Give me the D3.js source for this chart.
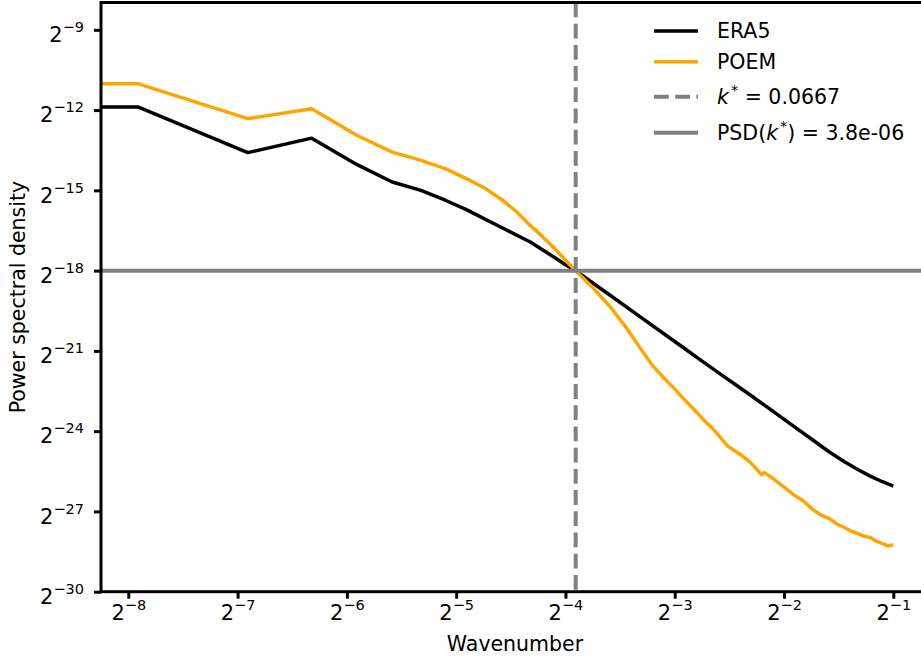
<!DOCTYPE html>
<html>
<head>
<meta charset="utf-8">
<script src="https://cdn.jsdelivr.net/npm/d3@7"></script>
<style>
  body { margin: 0; background: #fff; }
  text { font-family: "DejaVu Sans", sans-serif; fill: #000; }
</style>
</head>
<body>
<div id="chart"></div>
<script>
// grid length, wavenumber k = n / N
const N = 240;

// ERA5 spectrum, log2(PSD) (n = 0 is the clipped k = 0 point)
const eraN = [0, 1, 2, 3, 4, 5, 6, 7, 8, 10, 12, 14, 15, 16, 18, 20, 24, 28, 32, 36, 40,
  48, 56, 64, 72, 80, 88, 96, 104, 112, 120];
const eraLog2 = [-11.89, -11.89, -13.59, -13.05, -14.04, -14.69, -15.0, -15.37, -15.72, -16.39,
  -16.93, -17.51, -17.78, -18.0, -18.50, -18.94, -19.71, -20.36, -20.92, -21.42, -21.86,
  -22.61, -23.26, -23.83, -24.33, -24.78, -25.14, -25.44, -25.69, -25.89, -26.05];

// POEM spectrum
const poemN = [0, 1, 2, 3, 4, 5, 6, 7, 8, 9, 10, 11, 12, 13, 14, 15, 16, 18, 20, 22, 24, 26,
  28, 30, 32, 34, 36, 38, 40, 42, 44, 46, 48, 50, 52, 53, 56, 60, 64, 68, 72, 76, 80, 84,
  88, 92, 96, 100, 104, 108, 112, 116, 120];
const poemLog2 = [-11.02, -11.02, -12.32, -11.95, -12.95, -13.57, -13.88, -14.19, -14.56, -14.92,
  -15.34, -15.80, -16.31, -16.74, -17.17, -17.61, -18.0, -18.69, -19.38, -20.11, -20.86, -21.53,
  -22.01, -22.43, -22.84, -23.21, -23.57, -23.88, -24.22, -24.56, -24.74, -24.92, -25.12, -25.36,
  -25.62, -25.55, -25.77, -26.09, -26.39, -26.62, -26.93, -27.14, -27.27, -27.47, -27.60, -27.74,
  -27.83, -27.93, -27.98, -28.12, -28.20, -28.29, -28.24];

const kStar = 0.0667;
const psdStar = 3.8e-06;

const xTickExp = [-8, -7, -6, -5, -4, -3, -2, -1];
const yTickExp = [-9, -12, -15, -18, -21, -24, -27, -30];

const width = 921, height = 656;
const margin = {top: 2.5, left: 101, bottom: 591.7, right: 931};

const svg = d3.select("#chart").append("svg")
  .attr("width", width)
  .attr("height", height);

const x = d3.scaleLog().base(2)
  .domain([Math.pow(2, -8.25), Math.pow(2, -0.655)])
  .range([margin.left, margin.right]);

const y = d3.scaleLog().base(2)
  .domain([Math.pow(2, -30), Math.pow(2, -7.98)])
  .range([margin.bottom, margin.top]);

svg.append("clipPath").attr("id", "plot-clip")
  .append("rect")
  .attr("x", margin.left).attr("y", margin.top)
  .attr("width", margin.right - margin.left)
  .attr("height", margin.bottom - margin.top);

const plot = svg.append("g").attr("clip-path", "url(#plot-clip)");

function series(ns, vals) {
  return ns.map((n, i) => ({k: n / N, psd: Math.pow(2, vals[i])}));
}

// k = 0 is pushed off the left edge, like a clipped log axis
const line = d3.line()
  .x(d => d.k > 0 ? x(d.k) : margin.left - 40)
  .y(d => y(d.psd));

plot.append("path")
  .datum(series(eraN, eraLog2))
  .attr("d", line)
  .attr("fill", "none")
  .attr("stroke", "#000")
  .attr("stroke-width", 3.5)
  .attr("stroke-linejoin", "round");

plot.append("path")
  .datum(series(poemN, poemLog2))
  .attr("d", line)
  .attr("fill", "none")
  .attr("stroke", "#ffa500")
  .attr("stroke-width", 3.5)
  .attr("stroke-linejoin", "round");

plot.append("line")
  .attr("x1", x(kStar)).attr("x2", x(kStar))
  .attr("y1", margin.top).attr("y2", margin.bottom)
  .attr("stroke", "#808080")
  .attr("stroke-width", 4)
  .attr("stroke-dasharray", "14.8,6.4");

plot.append("line")
  .attr("x1", margin.left).attr("x2", margin.right)
  .attr("y1", y(psdStar)).attr("y2", y(psdStar))
  .attr("stroke", "#808080")
  .attr("stroke-width", 4);

// spines
svg.append("rect")
  .attr("x", margin.left).attr("y", margin.top)
  .attr("width", margin.right - margin.left)
  .attr("height", margin.bottom - margin.top)
  .attr("fill", "none")
  .attr("stroke", "#000")
  .attr("stroke-width", 3);

// power-of-two label: "2" with a superscript exponent
function powLabel(sel, e) {
  sel.append("tspan").text("2");
  sel.append("tspan")
    .attr("font-size", 14.5)
    .attr("dy", -10)
    .text("\u2212" + Math.abs(e));
}

const xAxis = svg.append("g")
  .attr("transform", "translate(0," + margin.bottom + ")")
  .call(d3.axisBottom(x)
    .tickValues(xTickExp.map(e => Math.pow(2, e)))
    .tickSize(7)
    .tickFormat(""));
xAxis.select(".domain").remove();
xAxis.selectAll(".tick line").attr("stroke-width", 3);
xAxis.selectAll(".tick").each(function(d, i) {
  d3.select(this).append("text")
    .attr("y", 28.5)
    .attr("text-anchor", "middle")
    .attr("font-size", 21)
    .call(powLabel, xTickExp[i]);
});

const yAxis = svg.append("g")
  .attr("transform", "translate(" + margin.left + ",0)")
  .call(d3.axisLeft(y)
    .tickValues(yTickExp.map(e => Math.pow(2, e)))
    .tickSize(7)
    .tickFormat(""));
yAxis.select(".domain").remove();
yAxis.selectAll(".tick line").attr("stroke-width", 3);
yAxis.selectAll(".tick").each(function(d, i) {
  d3.select(this).append("text")
    .attr("x", -17)
    .attr("y", 11.7)
    .attr("text-anchor", "end")
    .attr("font-size", 21)
    .call(powLabel, yTickExp[i]);
});

svg.append("text")
  .attr("x", 515)
  .attr("y", 651)
  .attr("text-anchor", "middle")
  .attr("font-size", 20.5)
  .text("Wavenumber");

svg.append("text")
  .attr("transform", "translate(25," + ((margin.top + margin.bottom) / 2) + ") rotate(-90)")
  .attr("text-anchor", "middle")
  .attr("font-size", 20.5)
  .text("Power spectral density");

// legend
const legend = svg.append("g");
const entries = [
  {name: "ERA5", color: "#000", width: 3.5, dash: null, y: 31},
  {name: "POEM", color: "#ffa500", width: 3.5, dash: null, y: 61.7},
  {name: "kstar", color: "#808080", width: 4, dash: "14.8,6.4", y: 96.7},
  {name: "psd", color: "#808080", width: 4, dash: null, y: 132.7}
];

entries.forEach(function(d) {
  legend.append("line")
    .attr("x1", 654).attr("x2", 698)
    .attr("y1", d.y).attr("y2", d.y)
    .attr("stroke", d.color)
    .attr("stroke-width", d.width)
    .attr("stroke-dasharray", d.dash);

  const t = legend.append("text")
    .attr("x", 717)
    .attr("y", d.y + 7.3)
    .attr("font-size", 20.5);

  if (d.name === "kstar") {
    t.append("tspan").attr("font-style", "italic").text("k");
    t.append("tspan").attr("font-size", 14.5).attr("dy", -9).attr("dx", 2).text("*");
    t.append("tspan").attr("dy", 9).text(" = " + kStar.toFixed(4));
  } else if (d.name === "psd") {
    t.append("tspan").text("PSD(");
    t.append("tspan").attr("font-style", "italic").text("k");
    t.append("tspan").attr("font-size", 14.5).attr("dy", -9).attr("dx", 2).text("*");
    t.append("tspan").attr("dy", 9).text(") = " + psdStar.toExponential(1).replace("e-6", "e-06"));
  } else {
    t.text(d.name);
  }
});
</script>
</body>
</html>
